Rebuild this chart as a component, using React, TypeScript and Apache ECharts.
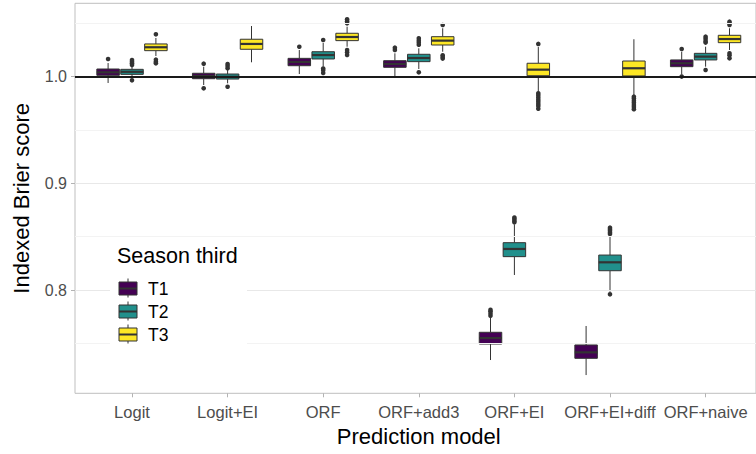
import React, { useEffect, useRef } from "react";
import * as echarts from "echarts";

const models = ["Logit", "Logit+EI", "ORF", "ORF+add3", "ORF+EI", "ORF+EI+diff", "ORF+naive"];
const seasons = ["T1", "T2", "T3"];
const seasonColors = ["#440154", "#21908C", "#FDE725"];

// per model: [lower whisker, Q1, median, Q3, upper whisker]
const t1Stats = [
  [0.9941, 1.0013, 1.0041, 1.0072, 1.0128],
  [0.9922, 0.9981, 1.0007, 1.0032, 1.0094],
  [1.0025, 1.0103, 1.0138, 1.0172, 1.025],
  [1.0, 1.0088, 1.0119, 1.015, 1.0219],
  [0.7344, 0.7494, 0.755, 0.7604, 0.7744],
  [0.7203, 0.736, 0.7416, 0.7485, 0.7663],
  [1.002, 1.0094, 1.0126, 1.0157, 1.0234],
];
const t2Stats = [
  [0.9988, 1.0022, 1.0046, 1.0069, 1.01],
  [0.9938, 0.9978, 0.9999, 1.0025, 1.0063],
  [1.0094, 1.0166, 1.0203, 1.0234, 1.0316],
  [1.0072, 1.0141, 1.0175, 1.021, 1.0266],
  [0.8141, 0.8313, 0.8385, 0.8444, 0.8615],
  [0.7984, 0.8181, 0.826, 0.8328, 0.8505],
  [1.0094, 1.0157, 1.0188, 1.0219, 1.0281],
];
const t3Stats = [
  [1.0194, 1.0244, 1.0276, 1.0307, 1.0363],
  [1.0135, 1.0257, 1.0307, 1.0351, 1.0475],
  [1.0281, 1.0338, 1.0372, 1.0407, 1.0469],
  [1.0234, 1.0297, 1.0338, 1.0375, 1.0454],
  [0.9859, 1.0009, 1.0066, 1.0126, 1.0278],
  [0.9828, 1.0007, 1.0079, 1.0147, 1.0351],
  [1.025, 1.0319, 1.0353, 1.0388, 1.0454],
];

// outlier values per model
const t1Outliers = [
  [1.0166],
  [1.0122, 0.9891],
  [1.0281],
  [1.025, 1.0272],
  [0.776, 0.778, 0.78, 0.7815],
  [],
  [1.026, 1.0001],
];
const t2Outliers = [
  [1.011, 1.0125, 1.014, 1.0156, 0.9966],
  [1.008, 1.01, 1.0119, 0.9906],
  [1.0344, 1.0077, 1.006, 1.0035],
  [1.03, 1.032, 1.034, 1.036, 1.0041],
  [0.8635, 0.865, 0.8665, 0.868],
  [0.8525, 0.854, 0.8555, 0.857, 0.8585, 0.796],
  [1.032, 1.0335, 1.0355, 1.0375, 1.0063],
];
const t3Outliers = [
  [1.0397, 1.0125, 1.014, 1.016],
  [],
  [1.05, 1.052, 1.0538, 1.025, 1.023, 1.0203],
  [1.0485, 1.02, 1.0185, 1.017],
  [1.0307, 0.9844, 0.9825, 0.9805, 0.9785, 0.9765, 0.9745, 0.9725, 0.97],
  [0.9813, 0.9795, 0.9775, 0.9755, 0.9735, 0.9715, 0.9695],
  [1.0485, 1.05, 1.0516, 1.0219, 1.02, 1.0172],
];

const yTicks = [0.8, 0.9, 1.0];
const yMinorGrid = [0.75, 0.85, 0.95, 1.05];
const referenceLine = 1.0;
const yMin = 0.7032;
const yMax = 1.0688;

const FONT = "Liberation Sans, Arial, sans-serif";
const LINE = "#333333";

export default function App() {
  const ref = useRef<HTMLDivElement>(null);
  useEffect(() => {
    if (!ref.current) return;
    const chart = echarts.init(ref.current, null, { renderer: "svg" });
    const allStats = [t1Stats, t2Stats, t3Stats];
    const allOutliers = [t1Outliers, t2Outliers, t3Outliers];

    const boxSeries = seasons.map((s, si) => ({
      type: "custom",
      name: s,
      xAxisIndex: 1,
      yAxisIndex: 1,
      z: 3,
      data: allStats[si].map((st, mi) => [mi, ...st]),
      encode: { x: 0, y: [1, 2, 3, 4, 5] },
      renderItem: (params: any, api: any) => {
        const mi = api.value(0);
        const band = api.size([1, 0])[0];
        const cx = api.coord([mi, api.value(3)])[0] + (si - 1) * band * 0.25;
        const w = band * 0.25 - 1.4;
        const yy = (k: number) => api.coord([mi, api.value(k)])[1];
        const yLo = yy(1), yQ1 = yy(2), yMed = yy(3), yQ3 = yy(4), yHi = yy(5);
        const ls = { stroke: LINE, lineWidth: 1 };
        return {
          type: "group",
          children: [
            { type: "line", shape: { x1: cx, y1: yHi, x2: cx, y2: yQ3 }, style: ls },
            { type: "line", shape: { x1: cx, y1: yQ1, x2: cx, y2: yLo }, style: ls },
            {
              type: "rect",
              shape: { x: cx - w / 2, y: yQ3, width: w, height: yQ1 - yQ3 },
              style: { fill: seasonColors[si], stroke: LINE, lineWidth: 1 },
            },
            {
              type: "line",
              shape: { x1: cx - w / 2, y1: yMed, x2: cx + w / 2, y2: yMed },
              style: { stroke: LINE, lineWidth: 2.2 },
            },
          ],
        };
      },
    }));

    const outlierSeries = seasons.map((s, si) => ({
      type: "custom",
      name: s + " outliers",
      xAxisIndex: 1,
      yAxisIndex: 1,
      z: 4,
      data: allOutliers[si].flatMap((vals, mi) => vals.map((v) => [mi, v])),
      encode: { x: 0, y: 1 },
      renderItem: (params: any, api: any) => {
        const p = api.coord([api.value(0), api.value(1)]);
        const band = api.size([1, 0])[0];
        return {
          type: "circle",
          shape: { cx: p[0] + (si - 1) * band * 0.25, cy: p[1], r: 2.3 },
          style: { fill: LINE },
        };
      },
    }));

    const legendGraphics: any[] = [
      { type: "rect", shape: { x: 110, y: 238, width: 137, height: 112 }, style: { fill: "#ffffff" }, z: 10 },
      {
        type: "text",
        x: 117,
        y: 256,
        z: 11,
        style: { text: "Season third", fill: "#000", fontSize: 21.5, fontFamily: FONT, verticalAlign: "middle", align: "left" },
      },
    ];
    seasons.forEach((s, i) => {
      const cy = 288.5 + 23 * i;
      legendGraphics.push(
        { type: "line", z: 11, shape: { x1: 128, y1: cy - 10, x2: 128, y2: cy + 9 }, style: { stroke: LINE, lineWidth: 1 } },
        { type: "rect", z: 11, shape: { x: 119, y: cy - 6.5, width: 18, height: 13 }, style: { fill: seasonColors[i], stroke: LINE, lineWidth: 1 } },
        { type: "line", z: 11, shape: { x1: 119, y1: cy, x2: 137, y2: cy }, style: { stroke: LINE, lineWidth: 2 } },
        {
          type: "text",
          z: 11,
          x: 148,
          y: cy,
          style: { text: s, fill: "#000", fontSize: 17.5, fontFamily: FONT, verticalAlign: "middle", align: "left" },
        }
      );
    });

    const option: any = {
      animation: false,
      textStyle: { fontFamily: FONT },
      grid: [
        { left: 75, top: 3.3, width: 688, height: 390, show: true, borderColor: "#bfbfbf", borderWidth: 1, backgroundColor: "#ffffff" },
        { left: 84.2, top: 3.3, width: 669.2, height: 390 },
      ],
      xAxis: [
        { gridIndex: 0, type: "value", min: 0, max: 1, show: false },
        {
          gridIndex: 1,
          type: "category",
          data: models,
          axisLine: { show: false },
          axisTick: { show: true, alignWithLabel: true, length: 4, lineStyle: { color: "#b3b3b3" } },
          axisLabel: { color: "#4d4d4d", fontSize: 16.5, margin: 10, interval: 0, fontFamily: FONT },
          splitLine: { show: false },
          name: "Prediction model",
          nameLocation: "middle",
          nameGap: 30,
          nameTextStyle: { fontSize: 22, color: "#000", fontFamily: FONT },
        },
      ],
      yAxis: [
        {
          gridIndex: 0,
          type: "value",
          min: yMin,
          max: yMax,
          axisLine: { show: false },
          axisTick: { show: true, customValues: yTicks, length: 4, lineStyle: { color: "#b3b3b3" } },
          axisLabel: {
            customValues: yTicks,
            formatter: (v: number) => v.toFixed(1),
            color: "#4d4d4d",
            fontSize: 16,
            margin: 8,
            fontFamily: FONT,
          },
          splitLine: { show: false },
          name: "Indexed Brier score",
          nameLocation: "middle",
          nameGap: 43,
          nameTextStyle: { fontSize: 22, color: "#000", fontFamily: FONT },
        },
        { gridIndex: 1, type: "value", min: yMin, max: yMax, show: false },
      ],
      graphic: legendGraphics,
      series: [
        {
          type: "line",
          xAxisIndex: 0,
          yAxisIndex: 0,
          data: [],
          silent: true,
          z: 1,
          markLine: {
            silent: true,
            symbol: ["none", "none"],
            label: { show: false },
            animation: false,
            data: [
              ...yMinorGrid.map((v) => ({ yAxis: v, lineStyle: { color: "#f3f3f3", width: 1, type: "solid" } })),
              ...yTicks.map((v) => ({ yAxis: v, lineStyle: { color: "#e8e8e8", width: 1, type: "solid" } })),
              { yAxis: referenceLine, lineStyle: { color: "#1a1a1a", width: 2, type: "solid" } },
            ],
          },
        },
        ...boxSeries,
        ...outlierSeries,
      ],
    };
    chart.setOption(option);
    return () => chart.dispose();
  }, []);
  return <div ref={ref} style={{ position: "absolute", left: 0, top: 0, width: 756, height: 454 }} />;
}
